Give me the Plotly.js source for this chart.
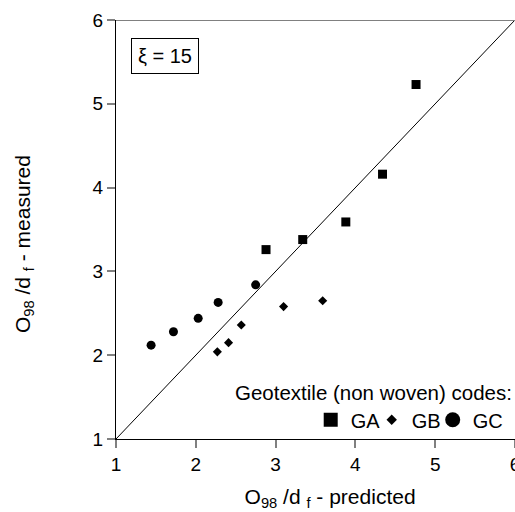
<!DOCTYPE html>
<html>
<head>
<meta charset="utf-8">
<script src="https://cdn.plot.ly/plotly-3.0.1.min.js"></script>
<style>html,body{margin:0;padding:0;background:#fff;}#chart{width:515px;height:512px;}</style>
</head>
<body>
<div id="chart"></div>
<script>
// Data
const gaPredicted = [2.88, 3.34, 3.88, 4.34, 4.76];
const gaMeasured  = [3.26, 3.38, 3.59, 4.16, 5.23];
const gbPredicted = [2.27, 2.41, 2.57, 3.10, 3.59];
const gbMeasured  = [2.04, 2.15, 2.36, 2.58, 2.65];
const gcPredicted = [1.44, 1.72, 2.03, 2.28, 2.75];
const gcMeasured  = [2.12, 2.28, 2.44, 2.63, 2.84];
const lineX = [1, 6];
const lineY = [1, 6];
const tickVals = [1, 2, 3, 4, 5, 6];
const seriesNames = ['GA', 'GB', 'GC'];

const FONT = 'Liberation Sans, Arial, sans-serif';
const traces = [
  {x: lineX, y: lineY, mode: 'lines', line: {color: '#000', width: 1}, showlegend: false, hoverinfo: 'skip'},
  {x: gaPredicted, y: gaMeasured, mode: 'markers', name: seriesNames[0], legendgroup: 'a', showlegend: false,
   marker: {symbol: 'square', size: 9, color: '#000'}},
  {x: gbPredicted, y: gbMeasured, mode: 'markers', name: seriesNames[1], legendgroup: 'b', showlegend: false,
   marker: {symbol: 'diamond', size: 7, color: '#000'}},
  {x: gcPredicted, y: gcMeasured, mode: 'markers', name: seriesNames[2], legendgroup: 'c', showlegend: false,
   marker: {symbol: 'circle', size: 9, color: '#000'}},
  // legend keys (no data)
  {x: [null], y: [null], mode: 'markers', name: seriesNames[0], legendgroup: 'a',
   marker: {symbol: 'square', size: 14, color: '#000'}},
  {x: [null], y: [null], mode: 'markers', name: seriesNames[1], legendgroup: 'b',
   marker: {symbol: 'diamond', size: 8, color: '#000'}},
  {x: [null], y: [null], mode: 'markers', name: seriesNames[2], legendgroup: 'c', legendwidth: 34,
   marker: {symbol: 'circle', size: 15, color: '#000'}}
];

const axisCommon = {
  range: [1, 6], tickvals: tickVals, ticks: 'outside', ticklen: 8, tickwidth: 2, tickcolor: '#808080',
  showline: true, linecolor: '#000', linewidth: 1, showgrid: false, zeroline: false,
  ticklabeloverflow: 'allow',
  tickfont: {family: FONT, size: 19, color: '#000'}, fixedrange: true
};

const NB = '&nbsp;&nbsp;&nbsp;&nbsp;&nbsp;';
const layout = {
  width: 515, height: 512,
  margin: {l: 116, r: 0, t: 20, b: 73},
  paper_bgcolor: '#fff', plot_bgcolor: '#fff',
  font: {family: FONT, color: '#000'},
  xaxis: Object.assign({}, axisCommon, {
    title: {text: NB + 'O<sub>98</sub> /d <sub>f</sub> - predicted', font: {family: FONT, size: 21, color: '#000'}, standoff: 15}
  }),
  yaxis: Object.assign({}, axisCommon, {
    title: {text: 'O<sub>98</sub> /d <sub>f</sub> - measured' + NB, font: {family: FONT, size: 21, color: '#000'}, standoff: 56}
  }),
  shapes: [
    {type: 'line', xref: 'x', yref: 'y', x0: 1, x1: 6, y0: 6, y1: 6, line: {color: '#808080', width: 2}}
  ],
  annotations: [
    {text: 'ξ = 15', xref: 'x', yref: 'y', x: 1.19, y: 5.79, xanchor: 'left', yanchor: 'top', showarrow: false,
     font: {family: FONT, size: 20, color: '#000'}, bordercolor: '#000', borderwidth: 1, borderpad: 6, bgcolor: '#fff'},
    {text: 'Geotextile (non woven) codes:', xref: 'paper', yref: 'paper', x: 0.997, y: 0.11, xanchor: 'right', yanchor: 'middle',
     showarrow: false, font: {family: FONT, size: 20.5, color: '#000'}}
  ],
  legend: {
    orientation: 'h', x: 0.488, y: 0.046, xanchor: 'left', yanchor: 'middle',
    font: {family: FONT, size: 20, color: '#000'}, bgcolor: 'rgba(0,0,0,0)',
    entrywidth: 16, entrywidthmode: 'pixels', itemclick: false, itemdoubleclick: false
  },
  showlegend: true
};

Plotly.newPlot('chart', traces, layout, {displayModeBar: false, staticPlot: true});
</script>
</body>
</html>
